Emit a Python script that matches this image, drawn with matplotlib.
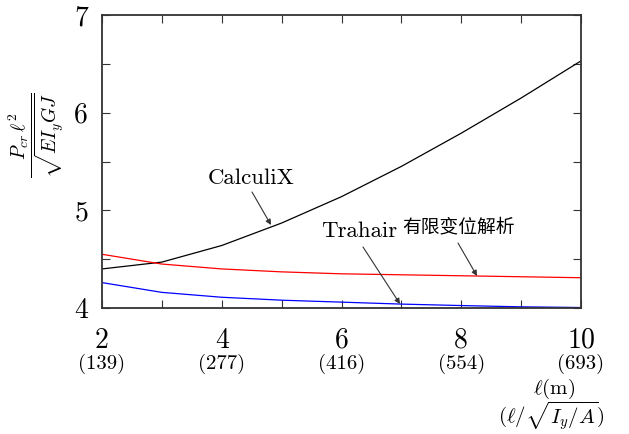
import matplotlib
matplotlib.use("Agg")
import matplotlib.pyplot as plt
from matplotlib.ticker import MultipleLocator, FixedLocator

plt.rcParams['mathtext.fontset'] = 'cm'
plt.rcParams['font.family'] = ['cmr10', 'DejaVu Serif']
plt.rcParams['axes.unicode_minus'] = False

# Data
length_m = [2, 3, 4, 5, 6, 7, 8, 9, 10]
calculix = [4.40, 4.47, 4.64, 4.87, 5.14, 5.45, 5.79, 6.15, 6.53]
fem_large = [4.55, 4.45, 4.40, 4.37, 4.35, 4.34, 4.33, 4.32, 4.31]
trahair = [4.26, 4.16, 4.11, 4.08, 4.06, 4.04, 4.025, 4.012, 4.005]

xtick_main = [2, 4, 6, 8, 10]
xtick_main_labels = ["2", "4", "6", "8", "10"]
xtick_sub_labels = ["(139)", "(277)", "(416)", "(554)", "(693)"]
ytick_vals = [4, 5, 6, 7]
ytick_labels = ["4", "5", "6", "7"]

W, H = 629, 434
fig = plt.figure(figsize=(W / 100, H / 100), dpi=100)
left, right, top, bottom = 102, 581, 15, 308
ax = fig.add_axes([left / W, 1 - bottom / H, (right - left) / W, (bottom - top) / H])

ax.plot(length_m, calculix, color='black', lw=0.9)
ax.plot(length_m, fem_large, color='red', lw=0.9)
ax.plot(length_m, trahair, color='blue', lw=0.9)

ax.set_xlim(2, 10)
ax.set_ylim(4, 7)

ax.xaxis.set_major_locator(FixedLocator(xtick_main))
ax.set_xticklabels(xtick_main_labels)
ax.xaxis.set_minor_locator(MultipleLocator(1))
ax.yaxis.set_major_locator(FixedLocator(ytick_vals))
ax.set_yticklabels(ytick_labels)
ax.yaxis.set_minor_locator(MultipleLocator(0.5))

ax.tick_params(which='both', direction='in', top=True, right=True,
               length=5.5, width=0.8, color='#333333')
ax.tick_params(axis='x', which='major', labelsize=20, pad=14)
ax.tick_params(axis='y', which='major', labelsize=20, pad=10)

for s in ax.spines.values():
    s.set_linewidth(1.3)
    s.set_color('#333333')

# sub tick labels
for xv, lab in zip(xtick_main, xtick_sub_labels):
    ax.text(xv, -0.191, lab, transform=ax.get_xaxis_transform(),
            ha='center', va='center', fontsize=15)

def px(x, y):
    return (x / W, 1 - y / H)

fig.text(*px(554, 389), r'$\ell(\mathrm{m})$', ha='center', va='center', fontsize=15)
fig.text(*px(551, 416), r'$(\ell/\sqrt{I_y/A})$', ha='center', va='center', fontsize=15)

fig.text(*px(36, 135), r'$\dfrac{P_{cr}\,\ell^2}{\sqrt{EI_yGJ}}$', rotation=90,
         ha='center', va='center', fontsize=14)

# annotations
def data_from_px(x, y):
    xd = 2 + (x - left) / (right - left) * 8
    yd = 4 + (bottom - y) / (bottom - top) * 3
    return xd, yd

arrowprops = dict(arrowstyle='-|>', color='#333333', lw=0.8,
                  mutation_scale=8, shrinkA=0, shrinkB=0)
ax.annotate('', xy=data_from_px(271, 225), xytext=data_from_px(252, 192),
            arrowprops=arrowprops)
ax.annotate('', xy=data_from_px(400, 304), xytext=data_from_px(363, 247),
            arrowprops=arrowprops)
ax.annotate('', xy=data_from_px(477, 276), xytext=data_from_px(458, 243),
            arrowprops=arrowprops)

ax.text(*data_from_px(251, 178), 'CalculiX', ha='center', va='center', fontsize=16.5)
ax.text(*data_from_px(359, 231), 'Trahair', ha='center', va='center', fontsize=16.5)
ax.text(*data_from_px(458, 227), '有限变位解析', ha='center', va='center', fontsize=13.5,
        family=['Noto Sans CJK SC', 'DejaVu Sans'], fontweight='medium')

fig.savefig('out.png', dpi=100)
